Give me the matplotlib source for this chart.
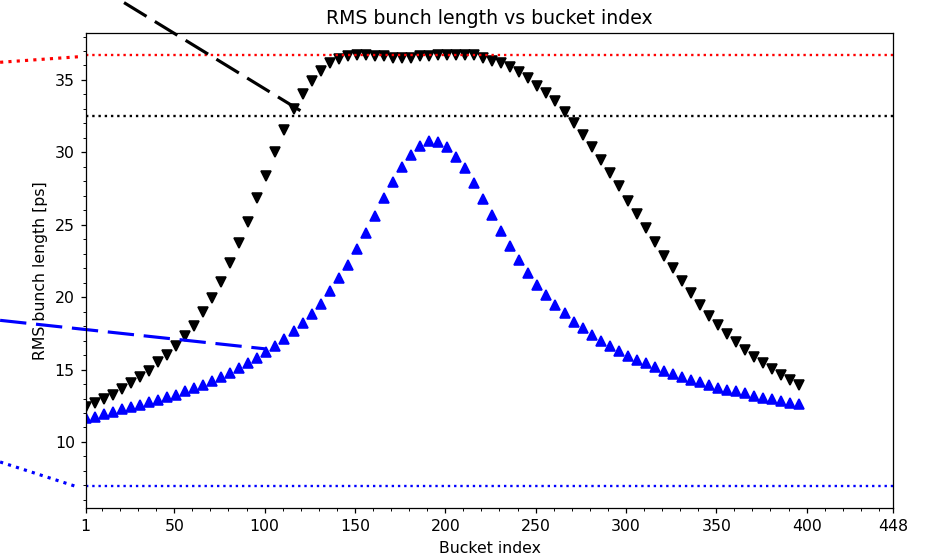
import numpy as np
import matplotlib
matplotlib.use("Agg")
import matplotlib.pyplot as plt
from matplotlib.ticker import MultipleLocator

# bucket indices (every 5th bucket is sampled)
buckets = np.arange(1, 400, 5)

# RMS bunch length [ps], upper curve (black, down triangles)
rms_upper = [
    12.39, 12.67, 12.97, 13.27, 13.66, 14.07, 14.46, 14.92, 15.50, 16.03,
    16.65, 17.29, 18.03, 19.00, 19.94, 21.05, 22.33, 23.74, 25.21, 26.82,
    28.39, 30.05, 31.55, 33.02, 34.00, 34.95, 35.64, 36.15, 36.45, 36.63,
    36.72, 36.72, 36.63, 36.63, 36.49, 36.49, 36.49, 36.63, 36.63, 36.72,
    36.72, 36.72, 36.72, 36.72, 36.52, 36.33, 36.17, 35.87, 35.57, 35.14,
    34.61, 34.10, 33.52, 32.81, 32.00, 31.20, 30.35, 29.50, 28.55, 27.68,
    26.66, 25.75, 24.78, 23.81, 22.87, 21.99, 21.14, 20.29, 19.46, 18.72,
    18.08, 17.46, 16.88, 16.35, 15.84, 15.46, 15.04, 14.65, 14.28, 13.96,
]

# RMS bunch length [ps], lower curve (blue, up triangles)
rms_lower = [
    11.65, 11.74, 11.93, 12.09, 12.28, 12.44, 12.58, 12.73, 12.90, 13.08,
    13.25, 13.49, 13.73, 13.96, 14.23, 14.51, 14.77, 15.08, 15.43, 15.80,
    16.19, 16.65, 17.11, 17.64, 18.22, 18.84, 19.53, 20.45, 21.33, 22.24,
    23.33, 24.43, 25.63, 26.82, 27.93, 29.01, 29.82, 30.44, 30.81, 30.74,
    30.39, 29.65, 28.90, 27.86, 26.75, 25.68, 24.55, 23.51, 22.59, 21.64,
    20.84, 20.15, 19.46, 18.88, 18.31, 17.87, 17.41, 16.99, 16.60, 16.26,
    15.96, 15.66, 15.43, 15.20, 14.92, 14.70, 14.46, 14.28, 14.12, 13.94,
    13.73, 13.59, 13.50, 13.36, 13.18, 13.04, 12.97, 12.80, 12.69, 12.62,
]

# reference levels [ps]
level_max = 36.73
level_black = 32.5
level_blue = 6.93

xticks = [1, 50, 100, 150, 200, 250, 300, 350, 400, 448]

DPI = 113
fig = plt.figure(figsize=(932 / DPI, 559 / DPI), dpi=DPI)
ax = fig.add_axes([0.092, 0.0907, 0.8665, 0.8497])

ax.plot(buckets, rms_upper, "v", color="black", markersize=6)
ax.plot(buckets, rms_lower, "^", color="blue", markersize=6)

ax.axhline(level_max, color="red", linestyle=":", linewidth=1.5)
ax.axhline(level_black, color="black", linestyle=":", linewidth=1.5)
ax.axhline(level_blue, color="blue", linestyle=":", linewidth=1.5)

# connector lines running off the left / top of the figure
ax.plot([-46.4, -1.0], [36.22, 36.62], color="red", linestyle=":",
        linewidth=2, clip_on=False, scalex=False, scaley=False)
ax.plot([22.2, 120.7], [40.34, 32.81], color="black", linewidth=2,
        dashes=(8.4, 3.1), clip_on=False, scalex=False, scaley=False)
ax.plot([-46.4, 101.1], [18.40, 16.42], color="blue", linewidth=2,
        dashes=(8.4, 3.1), clip_on=False, scalex=False, scaley=False)
ax.plot([-46.4, -4.4], [8.62, level_blue], color="blue", linestyle=":",
        linewidth=2, clip_on=False, scalex=False, scaley=False)

ax.set_xlim(1, 448)
ax.set_ylim(5.42, 38.22)
ax.set_xticks(xticks)
ax.xaxis.set_minor_locator(MultipleLocator(10))
ax.yaxis.set_minor_locator(MultipleLocator(1))

ax.set_title("RMS bunch length vs bucket index")
ax.set_xlabel("Bucket index")
ax.set_ylabel("RMS bunch length [ps]")

fig.savefig("out.png", dpi=DPI)
